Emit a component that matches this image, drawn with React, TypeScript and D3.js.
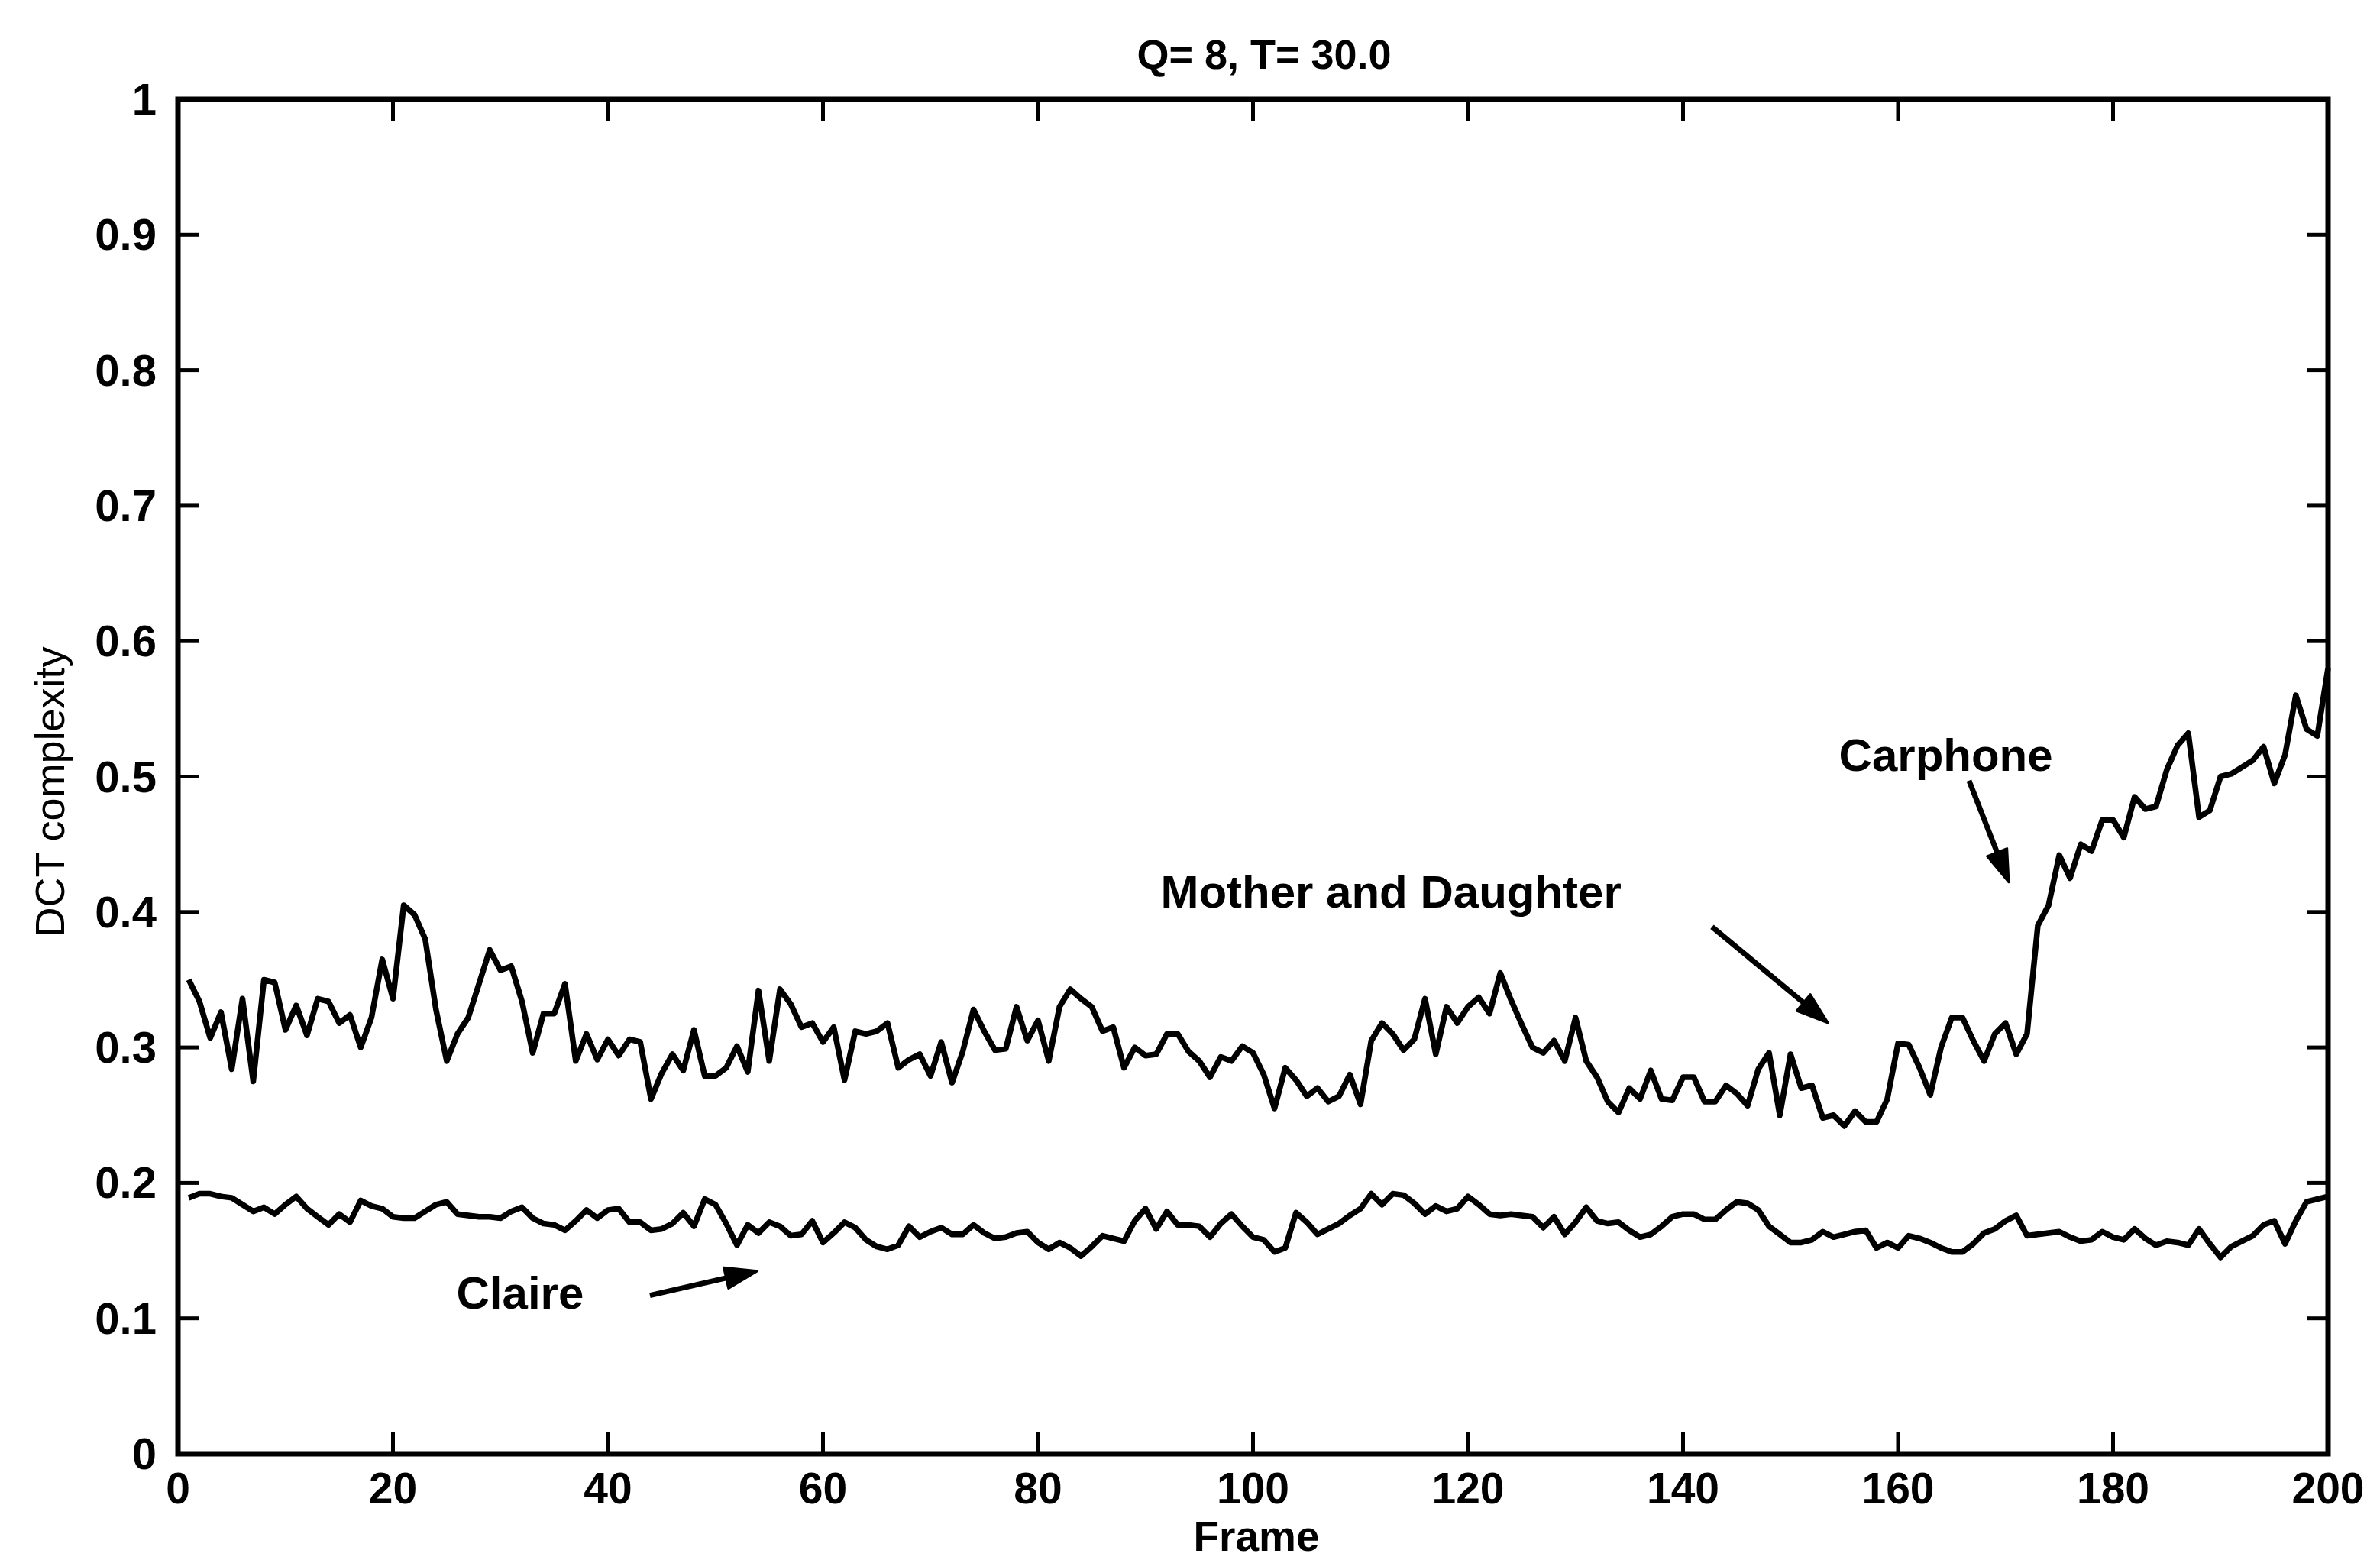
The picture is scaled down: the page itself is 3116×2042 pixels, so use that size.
import React from "react";
import * as d3 from "d3";

// DCT complexity per frame (frames 1..200), Q = 8, T = 30.0
const upperTrace = [
  0.35, 0.334, 0.307, 0.326, 0.284, 0.336, 0.275, 0.35, 0.348, 0.313,
  0.331, 0.309, 0.336, 0.334, 0.318, 0.324, 0.3, 0.322, 0.365, 0.336,
  0.405, 0.398, 0.38, 0.328, 0.29, 0.31, 0.322, 0.347, 0.372, 0.357,
  0.36, 0.334, 0.296, 0.325, 0.325, 0.347, 0.29, 0.31, 0.291, 0.306,
  0.294, 0.306, 0.304, 0.262, 0.281, 0.295, 0.283, 0.313, 0.279, 0.279,
  0.285, 0.301, 0.282, 0.342, 0.29, 0.343, 0.332, 0.315, 0.318, 0.304,
  0.315, 0.276, 0.312, 0.31, 0.312, 0.318, 0.285, 0.291, 0.295, 0.279,
  0.304, 0.274, 0.297, 0.328, 0.312, 0.298, 0.299, 0.33, 0.305, 0.32,
  0.29, 0.33, 0.343, 0.336, 0.33, 0.312, 0.315, 0.285, 0.3, 0.294,
  0.295, 0.31, 0.31, 0.297, 0.29, 0.278, 0.293, 0.29, 0.301, 0.296,
  0.28, 0.255, 0.285, 0.276, 0.264, 0.27, 0.26, 0.264, 0.28, 0.258,
  0.305, 0.318, 0.31, 0.298, 0.306, 0.336, 0.295, 0.33, 0.318, 0.33,
  0.337, 0.325, 0.355, 0.335, 0.317, 0.3, 0.296, 0.305, 0.29, 0.322,
  0.29, 0.278, 0.26, 0.252, 0.27, 0.262, 0.283, 0.262, 0.261, 0.278,
  0.278, 0.26, 0.26, 0.272, 0.266, 0.257, 0.284, 0.296, 0.25, 0.295,
  0.27, 0.272, 0.248, 0.25, 0.242, 0.253, 0.245, 0.245, 0.262, 0.303,
  0.302, 0.285, 0.265, 0.3, 0.322, 0.322, 0.305, 0.29, 0.31, 0.318,
  0.295, 0.31, 0.39, 0.405, 0.442, 0.425, 0.45, 0.445, 0.468, 0.468,
  0.455, 0.485, 0.476, 0.478, 0.505, 0.523, 0.532, 0.47, 0.475, 0.5,
  0.502, 0.507, 0.512, 0.522, 0.495, 0.516, 0.56, 0.535, 0.53, 0.58,
];

const claire = [
  0.189, 0.192, 0.192, 0.19, 0.189, 0.184, 0.179, 0.182, 0.177, 0.184,
  0.19, 0.181, 0.175, 0.169, 0.177, 0.171, 0.187, 0.183, 0.181, 0.175,
  0.174, 0.174, 0.179, 0.184, 0.186, 0.177, 0.176, 0.175, 0.175, 0.174,
  0.179, 0.182, 0.174, 0.17, 0.169, 0.165, 0.172, 0.18, 0.174, 0.18,
  0.181, 0.171, 0.171, 0.165, 0.166, 0.17, 0.178, 0.168, 0.188, 0.184,
  0.17, 0.154, 0.169, 0.163, 0.171, 0.168, 0.161, 0.162, 0.172, 0.156,
  0.163, 0.171, 0.167, 0.158, 0.153, 0.151, 0.154, 0.168, 0.16, 0.164,
  0.167, 0.162, 0.162, 0.169, 0.163, 0.159, 0.16, 0.163, 0.164, 0.156,
  0.151, 0.156, 0.152, 0.146, 0.153, 0.161, 0.159, 0.157, 0.172, 0.181,
  0.166, 0.179, 0.169, 0.169, 0.168, 0.16, 0.17, 0.177, 0.168, 0.16,
  0.158, 0.149, 0.152, 0.178, 0.171, 0.162, 0.166, 0.17, 0.176, 0.181,
  0.192, 0.184, 0.192, 0.191, 0.185, 0.177, 0.183, 0.179, 0.181, 0.19,
  0.184, 0.177, 0.176, 0.177, 0.176, 0.175, 0.167, 0.175, 0.162, 0.171,
  0.182, 0.172, 0.17, 0.171, 0.165, 0.16, 0.162, 0.168, 0.175, 0.177,
  0.177, 0.173, 0.173, 0.18, 0.186, 0.185, 0.18, 0.168, 0.162, 0.156,
  0.156, 0.158, 0.164, 0.16, 0.162, 0.164, 0.165, 0.152, 0.156, 0.152,
  0.161, 0.159, 0.156, 0.152, 0.149, 0.149, 0.155, 0.163, 0.166, 0.172,
  0.176, 0.161, 0.162, 0.163, 0.164, 0.16, 0.157, 0.158, 0.164, 0.16,
  0.158, 0.166, 0.159, 0.154, 0.157, 0.156, 0.154, 0.166, 0.155, 0.145,
  0.153, 0.157, 0.161, 0.169, 0.172, 0.155, 0.172, 0.186, 0.188, 0.19,
];

const xTicks = [0, 20, 40, 60, 80, 100, 120, 140, 160, 180, 200];
const yTicks = [0, 0.1, 0.2, 0.3, 0.4, 0.5, 0.6, 0.7, 0.8, 0.9, 1];

const titleText = "Q= 8, T= 30.0";
const xLabel = "Frame";
const yLabel = "DCT complexity";

// Text annotations with arrows, in data coordinates (frame, complexity)
const annotations = [
  { label: "Claire", text: [25.9, 0.107], from: [43.9, 0.117], to: [53.9, 0.135] },
  { label: "Mother and Daughter", text: [91.4, 0.403], from: [142.7, 0.389], to: [153.5, 0.318] },
  { label: "Carphone", text: [154.5, 0.504], from: [166.6, 0.497], to: [170.3, 0.422] },
];

const W = 3116;
const H = 2042;
const left = 233;
const right = 3048;
const top = 130;
const bottom = 1903;

const FONT = "'Liberation Sans', Arial, Helvetica, sans-serif";

export default function App() {
  const x = d3.scaleLinear().domain([0, 200]).range([left, right]);
  const y = d3.scaleLinear().domain([0, 1]).range([bottom, top]);

  const line = d3
    .line<number>()
    .x((_, i) => x(i + 1))
    .y((d) => y(d));

  const tickLen = 28;
  const fmt = d3.format("~g");

  const arrowHead = (from: number[], to: number[]) => {
    const x0 = x(from[0]);
    const y0 = y(from[1]);
    const x1 = x(to[0]);
    const y1 = y(to[1]);
    const ang = Math.atan2(y1 - y0, x1 - x0);
    const len = 42;
    const half = 14;
    const bx = x1 - len * Math.cos(ang);
    const by = y1 - len * Math.sin(ang);
    const px = -Math.sin(ang) * half;
    const py = Math.cos(ang) * half;
    return {
      shaft: `M${x0},${y0}L${bx},${by}`,
      head: `M${x1},${y1}L${bx + px},${by + py}L${bx - px},${by - py}Z`,
    };
  };

  return (
    <svg
      width={W}
      height={H}
      style={{ position: "absolute", left: 0, top: 0, background: "#fff" }}
    >
      <rect x={0} y={0} width={W} height={H} fill="#fff" />

      {/* data lines */}
      <path d={line(upperTrace) || ""} fill="none" stroke="#000" strokeWidth={7.5} strokeLinejoin="round" />
      <path d={line(claire) || ""} fill="none" stroke="#000" strokeWidth={7.5} strokeLinejoin="round" />

      {/* axes box */}
      <rect x={left} y={top} width={right - left} height={bottom - top} fill="none" stroke="#000" strokeWidth={7} />

      {/* x ticks, bottom and top */}
      {xTicks.map((t) => (
        <g key={"xt" + t}>
          <line x1={x(t)} x2={x(t)} y1={bottom} y2={bottom - tickLen} stroke="#000" strokeWidth={5} />
          <line x1={x(t)} x2={x(t)} y1={top} y2={top + tickLen} stroke="#000" strokeWidth={5} />
          <text
            x={x(t)}
            y={1968}
            textAnchor="middle"
            fontFamily={FONT}
            fontWeight="bold"
            fontSize={57}
          >
            {fmt(t)}
          </text>
        </g>
      ))}

      {/* y ticks, left and right */}
      {yTicks.map((t) => (
        <g key={"yt" + t}>
          <line x1={left} x2={left + tickLen} y1={y(t)} y2={y(t)} stroke="#000" strokeWidth={5} />
          <line x1={right} x2={right - tickLen} y1={y(t)} y2={y(t)} stroke="#000" strokeWidth={5} />
          <text
            x={205}
            y={y(t) + 20}
            textAnchor="end"
            fontFamily={FONT}
            fontWeight="bold"
            fontSize={58}
          >
            {fmt(t)}
          </text>
        </g>
      ))}

      {/* title and axis labels */}
      <text x={1655} y={90} textAnchor="middle" fontFamily={FONT} fontWeight="bold" fontSize={54}>
        {titleText}
      </text>
      <text x={1645} y={2030} textAnchor="middle" fontFamily={FONT} fontWeight="bold" fontSize={55}>
        {xLabel}
      </text>
      <text
        transform={`translate(84, ${(top + bottom) / 2 + 20}) rotate(-90)`}
        textAnchor="middle"
        fontFamily={FONT}
        fontSize={54}
      >
        {yLabel}
      </text>

      {/* annotations */}
      {annotations.map((a) => {
        const ah = arrowHead(a.from, a.to);
        return (
          <g key={a.label}>
            <text x={x(a.text[0])} y={y(a.text[1])} fontFamily={FONT} fontWeight="bold" fontSize={60}>
              {a.label}
            </text>
            <path d={ah.shaft} stroke="#000" strokeWidth={7} fill="none" />
            <path d={ah.head} fill="#000" stroke="#000" strokeWidth={3} strokeLinejoin="round" />
          </g>
        );
      })}
    </svg>
  );
}
